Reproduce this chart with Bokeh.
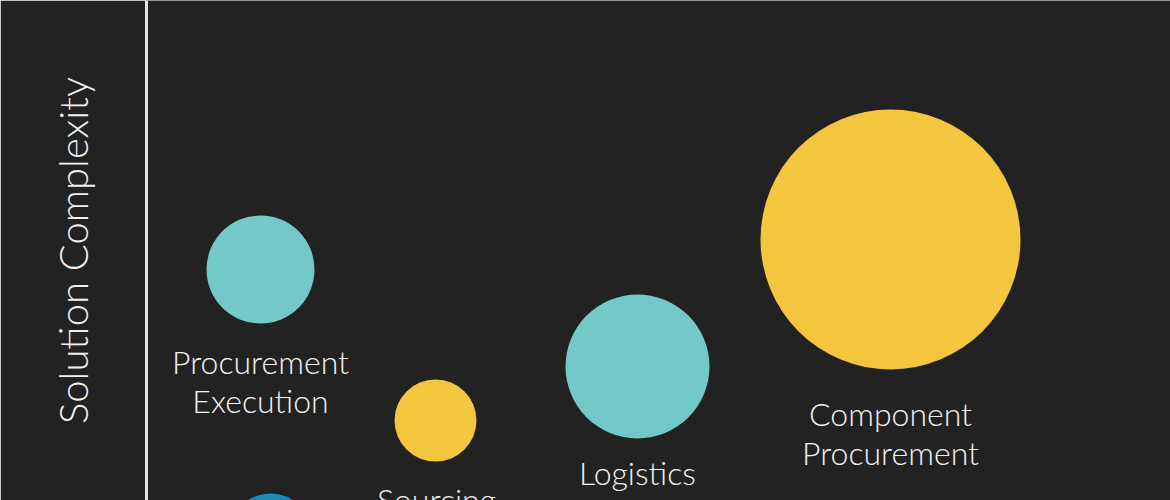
from bokeh.plotting import figure
from bokeh.models import Range1d, ColumnDataSource, LinearAxis, FixedTicker
from bokeh.core.properties import value
from bokeh.embed import file_html
from bokeh.resources import INLINE

# ---- data (x = horizontal position, y = solution complexity, r = bubble size) ----
labels = ["Procurement\nExecution", "Sourcing", "Logistics", "Component\nProcurement", ""]
xs = [114, 289, 491, 744, 124]
ys = [231, 80, 134, 261, -34]
sizes = [54, 41, 72, 130, 41]
colors = ["#72C9C8", "#F4C63D", "#72C9C8", "#F4C63D", "#1B8BB4"]
label_x = [114, 290, 491, 744, 124]
label_y = [159, 21, 48, 107, -200]

src = ColumnDataSource(dict(x=xs, y=ys, r=sizes, color=colors))
lsrc = ColumnDataSource(dict(x=label_x, y=label_y, label=labels))

BG = "#222222"
FONT = "'Lato Light', Lato, sans-serif"

p = figure(width=1170, height=500, output_backend="svg", toolbar_location=None,
           x_range=Range1d(0, 1024), y_range=Range1d(0, 500),
           x_axis_location=None, y_axis_location=None,
           min_border_left=146, min_border_right=0, min_border_top=0, min_border_bottom=0)
p.background_fill_color = BG
p.border_fill_color = BG
p.outline_line_color = None
p.xgrid.visible = False
p.ygrid.visible = False

yaxis = LinearAxis(ticker=FixedTicker(ticks=[]),
                   axis_line_color="#e4e4e4", axis_line_width=3,
                   major_tick_line_color=None, minor_tick_line_color=None,
                   major_label_text_font_size="0px",
                   axis_label="Solution Complexity",
                   axis_label_text_font=FONT,
                   axis_label_text_font_style="normal",
                   axis_label_text_font_size="40px",
                   axis_label_text_color="#f0f0f0",
                   axis_label_standoff=50)
p.add_layout(yaxis, "left")

p.circle(x="x", y="y", radius="r", source=src, fill_color="color",
         line_color=None, radius_dimension="x")

p.text(x="x", y="y", text="label", source=lsrc, text_align="center",
       text_baseline="top", text_font=value(FONT), text_font_size="32px",
       text_color="#f2f2f2", text_line_height=1.0)

open("out.html", "w").write(file_html(p, INLINE))
